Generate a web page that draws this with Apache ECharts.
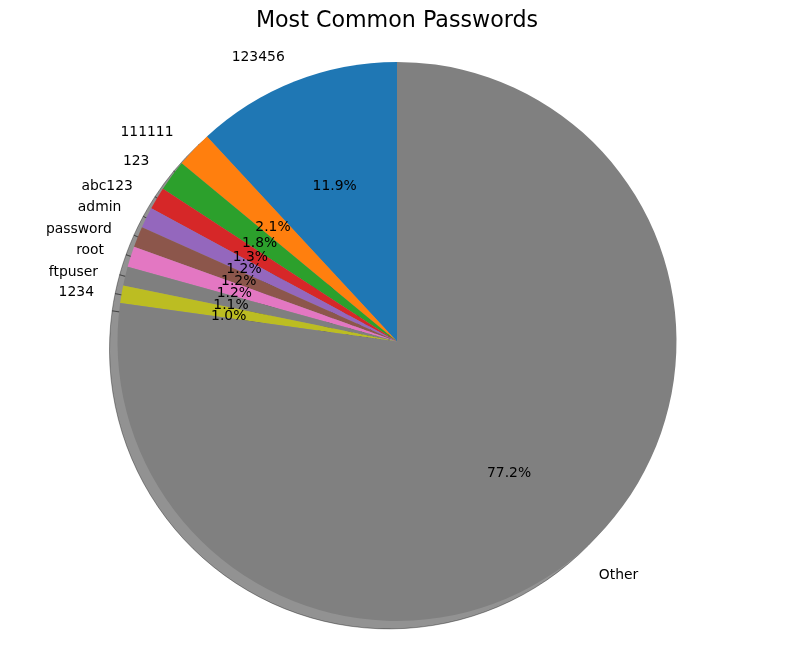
<!DOCTYPE html>
<html>
<head>
<meta charset="utf-8">
<script src="https://cdn.jsdelivr.net/npm/echarts@6/dist/echarts.min.js"></script>
<style>html,body{margin:0;padding:0;background:#fff}#c{width:794px;height:660px}</style>
</head>
<body>
<div id="c"></div>
<script>
var categories = ['123456', '111111', '123', 'abc123', 'admin', 'password', 'root', 'ftpuser', '1234', 'Other'];
var values = [11.9, 2.1, 1.8, 1.3, 1.2, 1.2, 1.2, 1.1, 1.0, 77.2];
var colors = ['#1f77b4', '#ff7f0e', '#2ca02c', '#d62728', '#9467bd', '#8c564b', '#e377c2', '#7f7f7f', '#bcbd22', '#808080'];

var CX = 397, CY = 341.4, R = 279.5;
var FONT = 'DejaVu Sans';

function mk(style) {
  return categories.map(function (c, i) {
    return { name: c, value: values[i], itemStyle: style(i) };
  });
}

function richFor(shiftLine) {
  return {
    s: { fontSize: 1, lineHeight: shiftLine },
    t: { fontFamily: FONT, fontSize: 13.9, lineHeight: 16, color: '#000' }
  };
}

var chart = echarts.init(document.getElementById('c'), null, { renderer: 'canvas' });
chart.setOption({
  animation: false,
  backgroundColor: '#ffffff',
  title: {
    text: 'Most Common Passwords',
    left: 'center',
    top: 5,
    textStyle: { fontFamily: FONT, fontSize: 22.2, fontWeight: 'normal', color: '#000' }
  },
  series: [
    {
      type: 'pie', silent: true, center: [CX - 8, CY + 8], radius: [0, R],
      startAngle: 90, clockwise: false, avoidLabelOverlap: false,
      label: { show: false }, labelLine: { show: false },
      data: mk(function () { return { color: 'rgba(38,38,38,0.5)', borderColor: 'rgba(0,0,0,0.35)', borderWidth: 1 }; })
    },
    {
      type: 'pie', silent: true, center: [CX, CY], radius: [0, R],
      startAngle: 90, clockwise: false, avoidLabelOverlap: false,
      labelLayout: { hideOverlap: false },
      label: {
        show: true, position: 'outside', color: '#000', fontFamily: FONT, fontSize: 13.9,
        distanceToLabelLine: 0,
        formatter: function (p) { return '{s| }\n{t|' + p.name + '}'; },
        rich: richFor(5)
      },
      labelLine: { show: false, length: R * 0.1, length2: 0 },
      data: mk(function (i) { return { color: colors[i], borderWidth: 0 }; })
    },
    {
      type: 'pie', silent: true, center: [CX, CY], radius: [0, R * 1.2],
      startAngle: 90, clockwise: false, avoidLabelOverlap: false,
      labelLayout: { hideOverlap: false },
      label: {
        show: true, position: 'inside', color: '#000', fontFamily: FONT, fontSize: 13.9,
        formatter: function (p) { return '{s| }\n{t|' + p.value.toFixed(1) + '%}'; },
        rich: richFor(7)
      },
      labelLine: { show: false },
      data: mk(function () { return { color: 'rgba(0,0,0,0)', borderWidth: 0 }; })
    }
  ]
});
</script>
</body>
</html>
